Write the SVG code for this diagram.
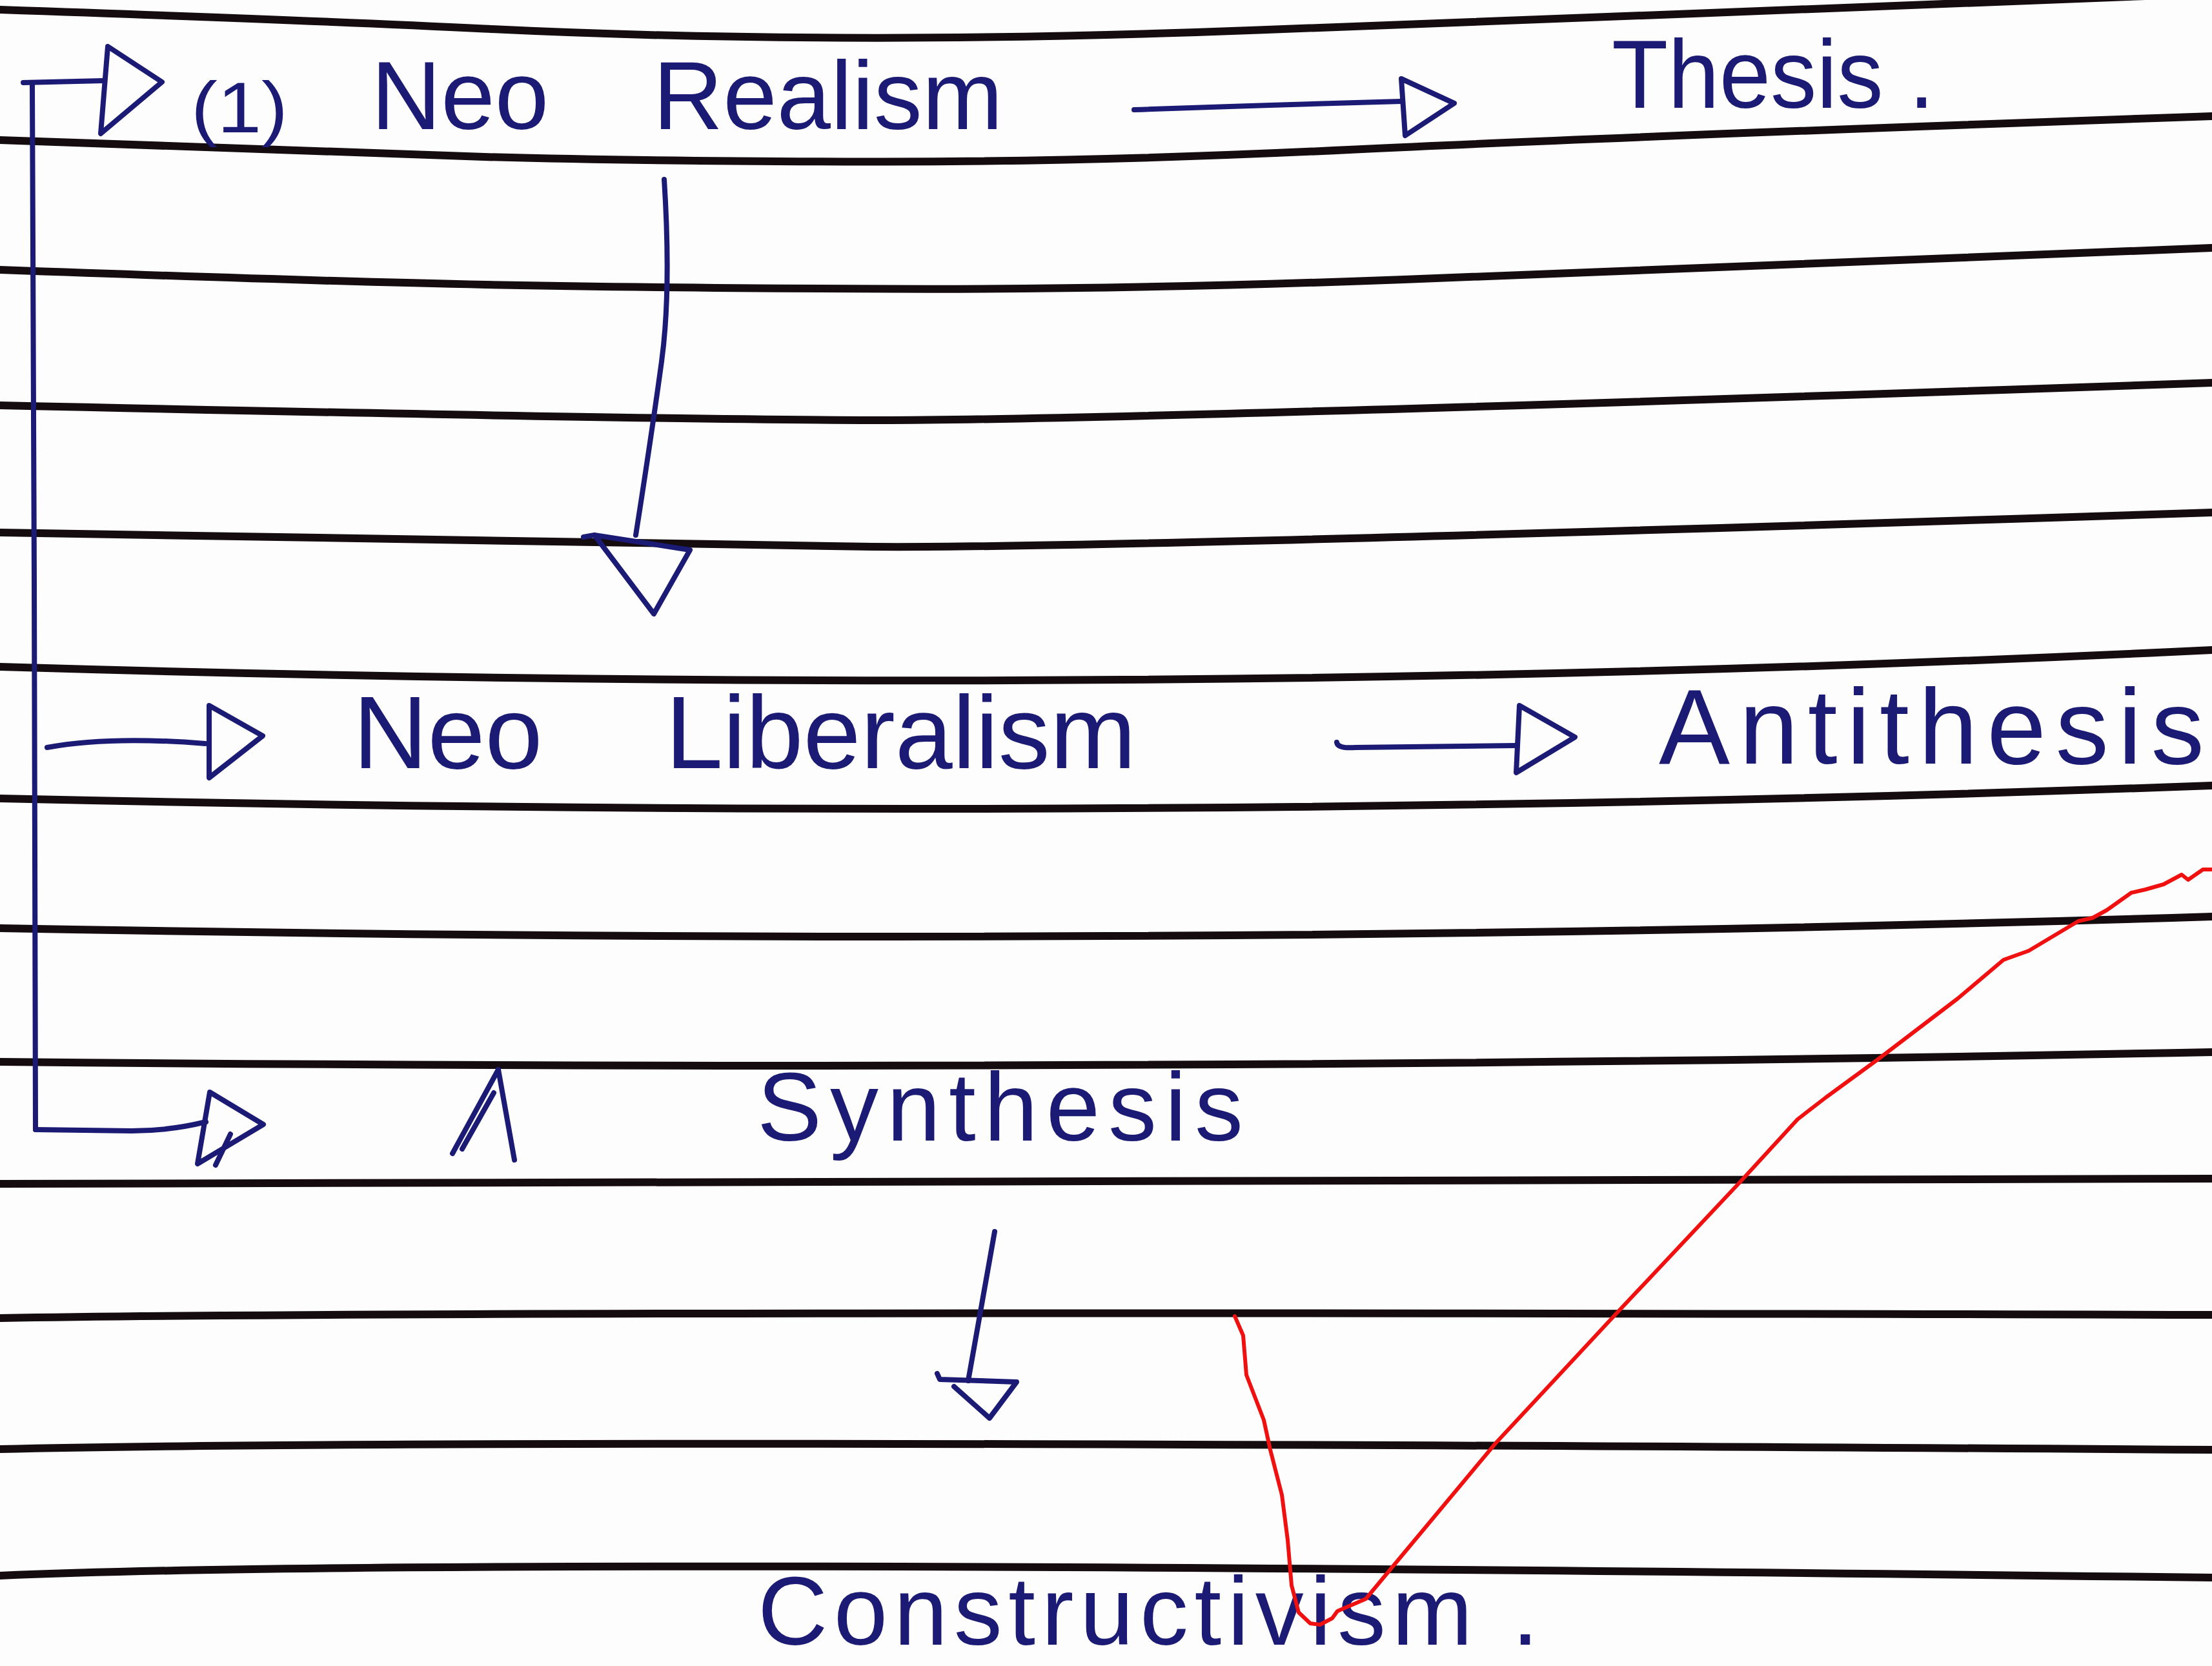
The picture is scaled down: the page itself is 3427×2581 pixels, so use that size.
<svg xmlns="http://www.w3.org/2000/svg" width="3427" height="2581" viewBox="0 0 3427 2581">
<style>
.rule{fill:none;stroke:#140c0e;stroke-width:12;stroke-linejoin:round;stroke-linecap:round}
.ink{fill:none;stroke:#1b1a74;stroke-width:8;stroke-linejoin:round;stroke-linecap:round}
.head{fill:none;stroke:#1b1a74;stroke-width:8;stroke-linejoin:round;stroke-linecap:round}
.red{fill:none;stroke:#f01010;stroke-width:6;stroke-linejoin:round;stroke-linecap:round}
.t{font-family:"Liberation Sans",Arial,sans-serif;fill:#1b1a74}
</style>
<rect width="3427" height="2581" fill="#fdfdfd"/>
<g id="paper-lines">
<path class="rule" d="M0,15 Q500,32 750,44.5 Q1000,57 1300,58.5 Q1600,60 1950,46.5 Q2300,33 2650,20 Q3000,7 3427,-10"/>
<path class="rule" d="M0,217 Q500,236 750,243 Q1000,250 1350,250.5 Q1700,251 2100,231.5 Q2500,212 3427,180"/>
<path class="rule" d="M0,418 Q500,436 752,441 Q1004,446 1377,447.5 Q1750,449 2175,433 Q2600,417 3427,384"/>
<path class="rule" d="M0,628 Q1004,650 1352,651 Q1700,652 3427,593"/>
<path class="rule" d="M0,825 Q1004,844 1352,847 Q1700,850 3427,794"/>
<path class="rule" d="M0,1033 Q1786,1086 3427,1007"/>
<path class="rule" d="M0,1237 Q1786,1277 3427,1217"/>
<path class="rule" d="M0,1438 Q1786,1471 3427,1420"/>
<path class="rule" d="M0,1645 Q1786,1662 3427,1630"/>
<path class="rule" d="M0,1834 Q1786,1834 3427,1826"/>
<path class="rule" d="M0,2042 Q686,2030 3427,2037"/>
<path class="rule" d="M0,2245 Q686,2228 3427,2246"/>
<path class="rule" d="M0,2441 Q686,2411 3427,2444"/>
</g>
<g id="connectors">
<path class="ink" d="M36,128 L160,125"/>
<path class="ink" d="M50,130 L53,900 L55,1750"/>
<polygon class="head" points="167,72 251,127 156,207"/>
<path class="ink" d="M55,1750 L204,1752 Q262,1752 319,1738"/>
<polygon class="head" points="325,1692 408,1742 306,1803"/>
<path class="ink" d="M357,1757 L334,1805"/>
<path class="ink" d="M73,1158 Q170,1140 318,1152"/>
<polygon class="head" points="324,1093 407,1140 324,1205"/>
<path class="ink" d="M1757,170 Q1950,163 2171,157"/>
<polygon class="head" points="2171,122 2253,160 2177,210"/>
<path class="ink" d="M2071,1150 Q2072,1160 2100,1158 L2349,1155"/>
<polygon class="head" points="2354,1093 2440,1142 2349,1197"/>
<path class="ink" d="M1029,278 Q1040,450 1025,560 T985,829"/>
<path class="head" d="M904,832 L921,829 L1069,852 L1013,951 L921,829"/>
<path class="ink" d="M1541,1908 L1500,2139"/>
<path class="head" d="M1452,2128 L1456,2137 L1575,2141 L1533,2197 L1478,2148"/>
<path class="ink" d="M701,1787 L772,1657 L797,1797 M716,1780 L765,1693"/>
</g>
<g id="node-neo-realism">
<text class="t" x="296" y="205" font-size="112" textLength="150" lengthAdjust="spacingAndGlyphs">(1)</text>
<text class="t" x="575" y="200" font-size="150" word-spacing="120">Neo Realism</text>
</g>
<g id="node-thesis">
<text class="t" x="2497" y="167" font-size="150" textLength="500" lengthAdjust="spacingAndGlyphs">Thesis .</text>
</g>
<g id="node-neo-liberalism">
<text class="t" x="547" y="1190" font-size="160" word-spacing="146">Neo Liberalism</text>
</g>
<g id="node-antithesis">
<text class="t" x="2570" y="1183" font-size="165" textLength="845" lengthAdjust="spacing">Antithesis</text>
</g>
<g id="node-synthesis">
<text class="t" x="1173" y="1767" font-size="150" textLength="753" lengthAdjust="spacing">Synthesis</text>
</g>
<g id="node-constructivism">
<text class="t" x="1174" y="2548" font-size="150" textLength="1210" lengthAdjust="spacing">Constructivism .</text>
</g>
<g id="annotation">
<polyline class="red" points="1913,2039 1926,2069 1931,2130 1958,2200 1968,2246 1986,2316 1995,2386 2001,2456 2012,2498 2030,2515 2045,2517 2064,2507 2072,2496 2116,2477 2161,2423 2317,2236 2504,2035 2697,1830 2785,1734 2829,1700 2911,1640 3033,1547 3104,1487 3143,1473 3220,1427 3242,1422 3264,1410 3302,1383 3324,1378 3352,1370 3380,1355 3390,1363 3413,1347 3427,1347"/>
</g>
</svg>
